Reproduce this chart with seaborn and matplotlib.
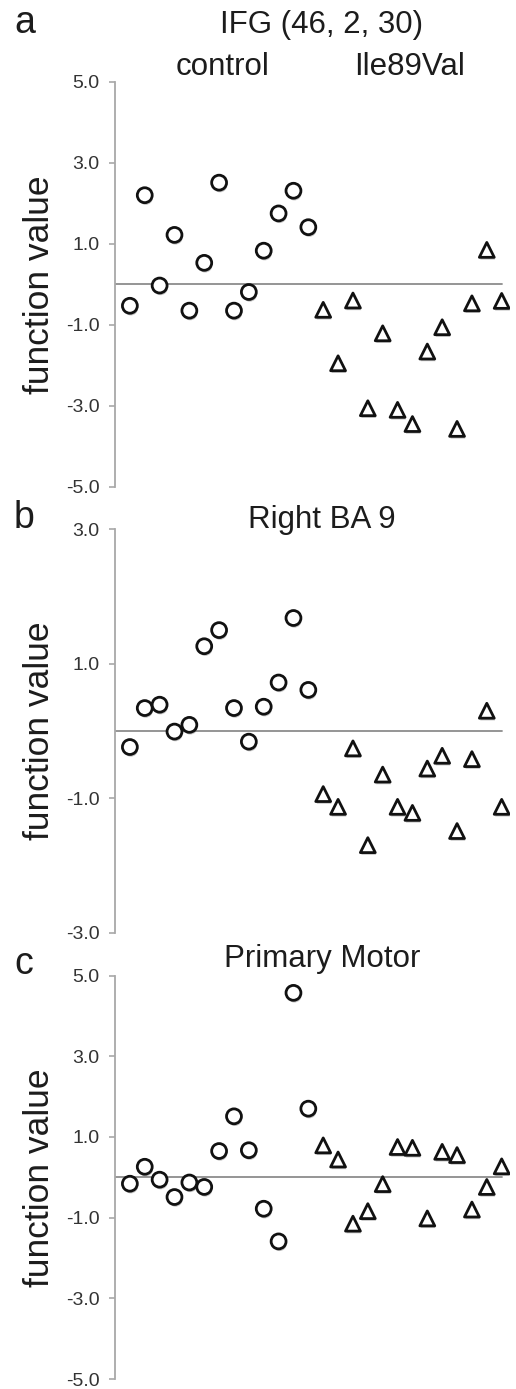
import numpy as np
import pandas as pd
import matplotlib
matplotlib.use("Agg")
import matplotlib.pyplot as plt
import matplotlib.patheffects as pe
import seaborn as sns

sns.set_theme(style="white")
plt.rcParams["font.family"] = ["Liberation Sans", "DejaVu Sans"]

# Per-subject function values, 13 controls then 13 Ile89Val carriers
groups = ["control"] * 13 + ["Ile89Val"] * 13

ifg_values = [-0.53, 2.20, -0.03, 1.22, -0.65, 0.53, 2.51, -0.65, -0.19, 0.83, 1.75, 2.31, 1.41,
              -0.63, -1.95, -0.40, -3.06, -1.21, -3.10, -3.45, -1.66, -1.06, -3.57, -0.47, 0.85, -0.41]
ba9_values = [-0.24, 0.34, 0.39, -0.01, 0.09, 1.26, 1.50, 0.34, -0.16, 0.36, 0.72, 1.68, 0.61,
              -0.94, -1.13, -0.26, -1.70, -0.65, -1.13, -1.22, -0.56, -0.37, -1.49, -0.42, 0.30, -1.13]
motor_values = [-0.16, 0.26, -0.06, -0.49, -0.13, -0.24, 0.65, 1.51, 0.67, -0.78, -1.59, 4.57, 1.70,
                0.79, 0.44, -1.15, -0.84, -0.17, 0.75, 0.73, -1.02, 0.63, 0.55, -0.80, -0.24, 0.27]

panel_letters = ["a", "b", "c"]
panel_titles = ["IFG (46, 2, 30)", "Right BA 9", "Primary Motor"]
y_ticks = [[-5.0, -3.0, -1.0, 1.0, 3.0, 5.0],
           [-3.0, -1.0, 1.0, 3.0],
           [-5.0, -3.0, -1.0, 1.0, 3.0, 5.0]]
group_labels = ["control", "Ile89Val"]

W, H = 516, 1389
fig = plt.figure(figsize=(W / 100, H / 100), dpi=100)

def fx(px):
    return px / W

def fy(py):
    return 1 - py / H

# axes boxes in pixels: (top of y range, bottom of y range)
boxes = [(81.8, 486.8), (529.3, 932.5), (975.5, 1379.0)]
ax_left, ax_right = 115, 510

ink = "#1c1c1c"
spine_col = "#a8a8a8"
shadow = [pe.SimplePatchShadow(offset=(0.6, -1.6), shadow_rgbFace="#555555", alpha=0.35), pe.Normal()]

all_values = [ifg_values, ba9_values, motor_values]
for i, vals in enumerate(all_values):
    top, bot = boxes[i]
    ax = fig.add_axes([fx(ax_left), fy(bot), fx(ax_right - ax_left), (bot - top) / H])
    df = pd.DataFrame({"subject": np.arange(len(vals)), "value": vals, "group": groups})
    sns.scatterplot(data=df, x="subject", y="value", style="group",
                    markers={"control": "o", "Ile89Val": "^"},
                    s=115, color="white", edgecolor="#111111", linewidth=2.0,
                    legend=False, ax=ax, zorder=3)
    for coll in ax.collections:
        coll.set_path_effects(shadow)
    ax.plot([-1.0, len(vals) - 1], [0, 0], color="#8c8c8c", lw=1.3, zorder=1)

    ticks = y_ticks[i]
    ax.set_ylim(ticks[0], ticks[-1])
    ax.set_xlim(-1.0, 25.56)
    ax.set_yticks(ticks)
    ax.set_yticklabels([f"{t:.1f}" for t in ticks])
    ax.set_xticks([])
    ax.set_xlabel("")
    ax.set_ylabel("")
    for s in ["top", "right", "bottom"]:
        ax.spines[s].set_visible(False)
    ax.spines["left"].set_color(spine_col)
    ax.spines["left"].set_linewidth(1.3)
    ax.tick_params(axis="y", direction="out", length=4, width=1.2, color=spine_col,
                   labelsize=14, labelcolor="#333333", pad=7, left=True)
    ax.set_facecolor("none")

    # ylabel
    fig.text(fx(40), fy((top + bot) / 2), "function value", rotation=90,
             ha="center", va="center", fontsize=25.5, color=ink)

# panel letters and titles (baseline positions)
letter_base = [33.3, 528.0, 974.0]
title_base = [33.3, 528.3, 967.3]
for i in range(3):
    fig.text(fx(14), fy(letter_base[i]), panel_letters[i], ha="left", va="baseline",
             fontsize=27, color=ink)
    fig.text(fx(322), fy(title_base[i]), panel_titles[i], ha="center", va="baseline",
             fontsize=22.5, color=ink)

fig.text(fx(223), fy(75), group_labels[0], ha="center", va="baseline", fontsize=22.5, color=ink)
fig.text(fx(410), fy(75), group_labels[1], ha="center", va="baseline", fontsize=22.5, color=ink)

fig.savefig("out.png", dpi=100, facecolor="white")
